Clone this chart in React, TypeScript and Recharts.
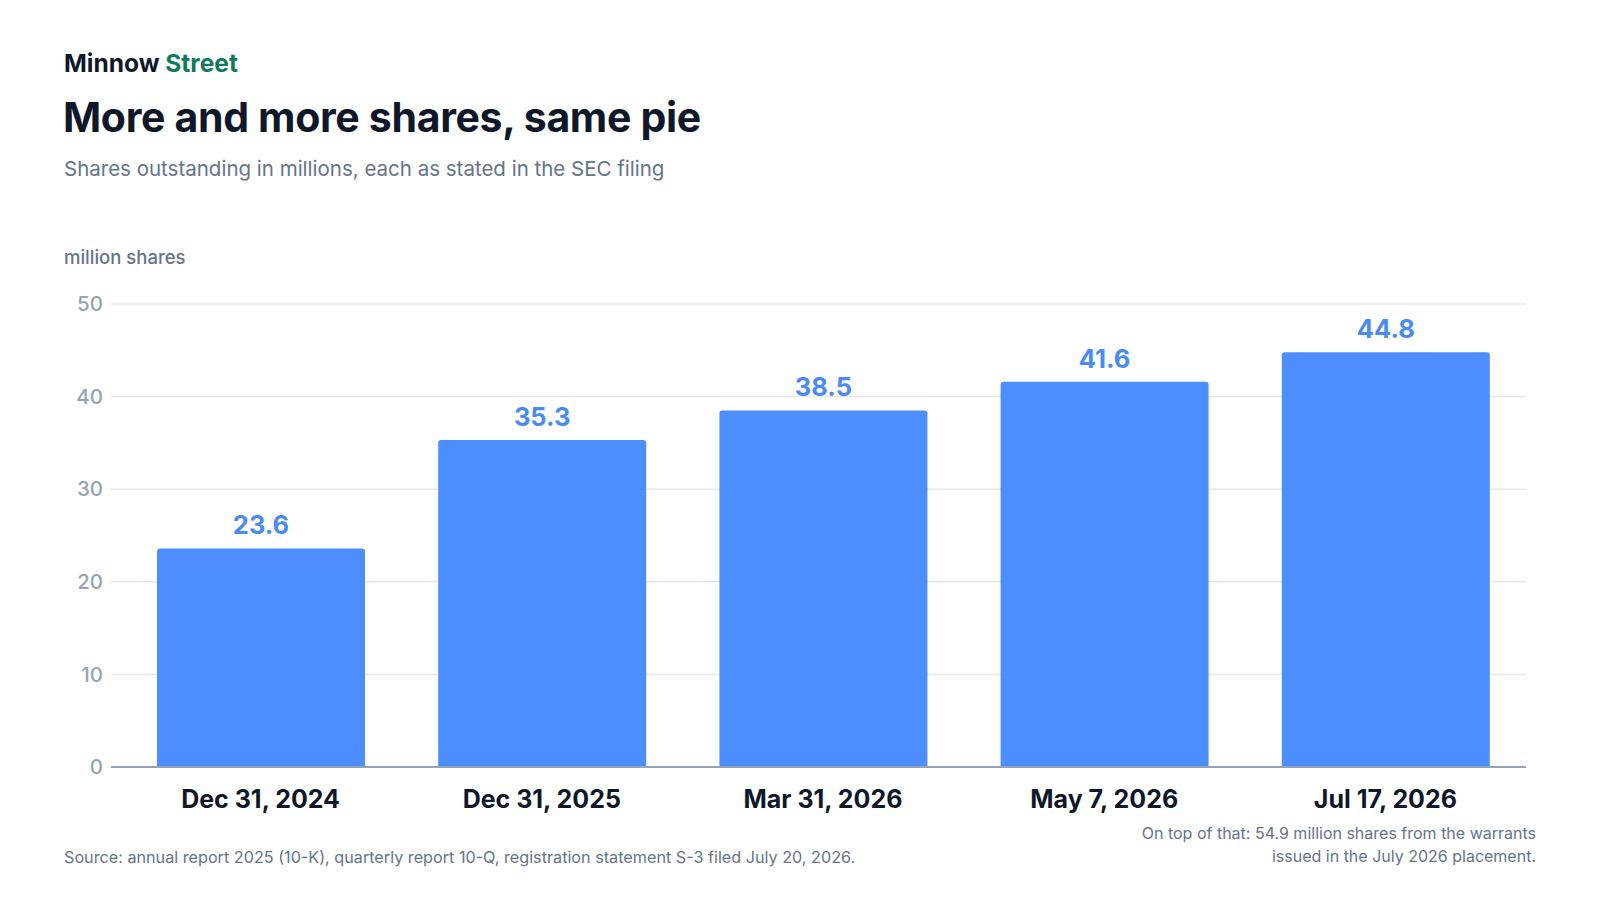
import { Bar, BarChart, CartesianGrid, LabelList, XAxis, YAxis } from 'recharts';

const dates = ['Dec 31, 2024', 'Dec 31, 2025', 'Mar 31, 2026', 'May 7, 2026', 'Jul 17, 2026'];
const sharesOutstanding = [23.6, 35.3, 38.5, 41.6, 44.8];
const yTicks = [0, 10, 20, 30, 40, 50];

const data = dates.map((date, i) => ({ date, shares: sharesOutstanding[i] }));

const FONT = 'Inter, "Noto Sans", sans-serif';
const BAR_COLOR = '#4c8dff';
const INK = '#0f172a';
const MUTED = '#64748b';

export default function App() {
    return (
        <div
            style={{
                position: 'absolute',
                left: 0,
                top: 0,
                width: 1600,
                height: 900,
                background: '#fff',
                fontFamily: FONT,
                overflow: 'hidden',
            }}
        >
            <div style={{ position: 'absolute', left: 64, top: 48, fontSize: 24.5, fontWeight: 700, color: INK }}>
                Minnow <span style={{ color: '#0f7b5a' }}>Street</span>
            </div>
            <div style={{ position: 'absolute', left: 63, top: 92, fontSize: 41, fontWeight: 700, color: INK, letterSpacing: '-0.008em' }}>
                More and more shares, same pie
            </div>
            <div style={{ position: 'absolute', left: 64, top: 156, fontSize: 20.5, color: MUTED }}>
                Shares outstanding in millions, each as stated in the SEC filing
            </div>
            <div style={{ position: 'absolute', left: 64, top: 246, fontSize: 18.5, fontWeight: 500, color: MUTED }}>
                million shares
            </div>

            <div style={{ position: 'absolute', left: 0, top: 0 }}>
                <BarChart width={1600} height={900} data={data} margin={{ top: 304, right: 74, bottom: 103, left: 64 }}>
                    <CartesianGrid vertical={false} stroke="#e5e7eb" strokeWidth={1.5} />
                    <XAxis
                        dataKey="date"
                        padding={{ left: 9, right: 0 }}
                        axisLine={{ stroke: '#94a3b8', strokeWidth: 2 }}
                        tickLine={false}
                        tickMargin={17}
                        tick={{ fontSize: 25, fontWeight: 700, fill: INK, fontFamily: FONT }}
                        interval={0}
                    />
                    <YAxis
                        width={47}
                        domain={[0, 50]}
                        ticks={yTicks}
                        axisLine={false}
                        tickLine={false}
                        tick={{ fontSize: 20.5, fontWeight: 500, fill: '#94a3b8', fontFamily: FONT }}
                    />
                    <Bar dataKey="shares" fill={BAR_COLOR} barSize={208} radius={[3, 3, 0, 0]} isAnimationActive={false}>
                        <LabelList
                            dataKey="shares"
                            position="top"
                            offset={14}
                            fill="#4a8af5"
                            fontSize={25.5}
                            fontWeight={700}
                            fontFamily={FONT}
                        />
                    </Bar>
                </BarChart>
            </div>

            <div style={{ position: 'absolute', left: 64, top: 847, fontSize: 16.2, color: MUTED }}>
                Source: annual report 2025 (10-K), quarterly report 10-Q, registration statement S-3 filed July 20, 2026.
            </div>
            <div
                style={{
                    position: 'absolute',
                    right: 64,
                    top: 822,
                    fontSize: 16,
                    lineHeight: '23px',
                    color: MUTED,
                    textAlign: 'right',
                }}
            >
                On top of that: 54.9 million shares from the warrants
                <br />
                issued in the July 2026 placement.
            </div>
        </div>
    );
}
